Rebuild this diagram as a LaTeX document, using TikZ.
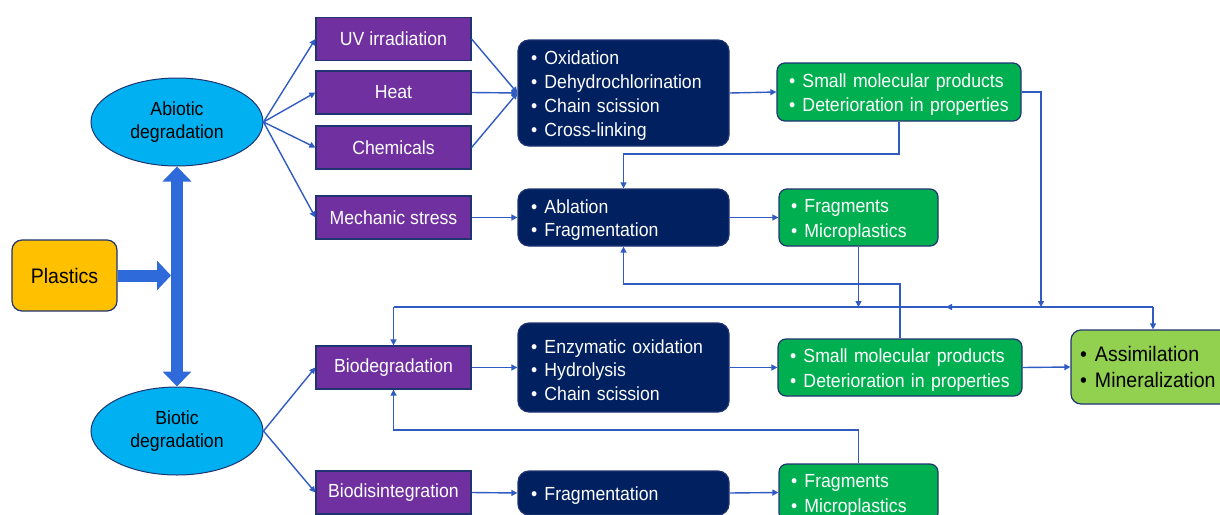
\documentclass[tikz,border=0pt]{standalone}
\usepackage{fontspec}
\setmainfont{Liberation Sans}[FakeStretch=0.93]
\usetikzlibrary{arrows.meta,shapes.geometric,calc}
\definecolor{navy}{HTML}{002060}
\definecolor{grn}{HTML}{00B050}
\definecolor{lgrn}{HTML}{92D050}
\definecolor{purp}{HTML}{7030A0}
\definecolor{cyanx}{HTML}{00B0F0}
\definecolor{yel}{HTML}{FFC000}
\definecolor{lineblue}{HTML}{2F5BC2}
\definecolor{thickblue}{HTML}{2F6ADB}
\definecolor{boxedge}{HTML}{1F3470}
\newcommand\bul{\makebox[13.5pt][l]{\textbullet}}
\newcommand\bigbul{\makebox[15pt][l]{\textbullet}}
\newcommand\nohy{\hyphenpenalty=10000\relax}
\begin{document}
\begin{tikzpicture}[x=1pt,y=-1pt,
  conn/.style={draw=lineblue, line width=1.4pt, -{Triangle[length=6pt,width=6pt]}},
  plainline/.style={draw=lineblue, line width=1.4pt},
  thickarrow/.style={draw=thickblue, line width=12pt},
  purplebox/.style={rectangle, fill=purp, draw=boxedge, line width=1.2pt, minimum width=155pt, minimum height=43pt, text=white, font=\fontsize{19}{22}\selectfont, inner sep=0pt},
  navybox/.style={rectangle, rounded corners=11pt, fill=navy, draw=boxedge, line width=1.2pt, minimum width=211pt, text width=185pt, align=left, inner xsep=13pt, inner ysep=0pt, text=white, font=\fontsize{19}{23.7}\selectfont\nohy, execute at begin node={\rule{0pt}{19pt}}},
  greenbox/.style={rectangle, rounded corners=8pt, fill=grn, draw=boxedge, line width=1.2pt, align=left, inner xsep=12pt, inner ysep=0pt, text=white, font=\fontsize{19}{24.5}\selectfont\nohy, execute at begin node={\rule{0pt}{19pt}}},
  ell/.style={ellipse, fill=cyanx, draw=boxedge, line width=1pt, minimum width=172pt, minimum height=88pt, align=center, inner sep=0pt, font=\fontsize{19}{23}\selectfont}
]
\useasboundingbox (0,0) rectangle (1220,514);
\clip (0,0) rectangle (1220,514);

% left
\node[rectangle, rounded corners=10pt, fill=yel, draw=boxedge, line width=1.2pt, minimum width=105pt, minimum height=71pt, font=\fontsize{21}{24}\selectfont, inner sep=0pt] (plast) at (64.5,275.5) {Plastics};
\node[ell] (abio) at (177,122) {Abiotic\\degradation};
\node[ell] (bio) at (177,431) {Biotic\\degradation};

% purple
\node[purplebox] (uv) at (393.5,39) {UV irradiation};
\node[purplebox] (heat) at (393.5,92.5) {Heat};
\node[purplebox] (chem) at (393.5,147.5) {Chemicals};
\node[purplebox] (mech) at (393.5,217.5) {Mechanic stress};
\node[purplebox] (biodeg) at (393.5,367.5) {Biodegradation};
\node[purplebox] (biodis) at (393.5,492.5) {Biodisintegration};

% navy
\node[navybox, minimum height=106pt] (n1) at (623.5,93) {\bul Oxidation\\\bul Dehydrochlorination\\\bul Chain scission\\\bul Cross-linking};
\node[navybox, minimum height=57pt] (n2) at (623.5,217.5) {\bul Ablation\\\bul Fragmentation};
\node[navybox, minimum height=89pt] (n3) at (623.5,367.5) {\bul Enzymatic oxidation\\\bul Hydrolysis\\\bul Chain scission};
\node[navybox, minimum height=44pt] (n4) at (623.5,493) {\bul Fragmentation};

% green
\node[greenbox, minimum width=244pt, text width=220pt, minimum height=58pt] (g1) at (899,92) {\bul Small molecular products\\\bul Deterioration in properties};
\node[greenbox, minimum width=159pt, text width=135pt, minimum height=57pt] (g2) at (858.5,217.5) {\bul Fragments\\\bul Microplastics};
\node[greenbox, minimum width=244pt, text width=220pt, minimum height=57pt] (g3) at (900,367.5) {\bul Small molecular products\\\bul Deterioration in properties};
\node[greenbox, minimum width=159pt, text width=135pt, minimum height=57pt] (g4) at (858.5,492.5) {\bul Fragments\\\bul Microplastics};
\node[rectangle, rounded corners=10pt, fill=lgrn, draw=boxedge, line width=1.2pt, minimum width=164pt, text width=146pt, inner xsep=9pt, minimum height=74pt, align=left, font=\fontsize{21}{26}\selectfont] (assim) at (1153,367) {\bigbul Assimilation\\\bigbul Mineralization};

% thick arrows
\coordinate (bar) at (abio.south |- plast.east);
\draw[thickarrow, -{Triangle[length=14pt,width=29pt]}] (plast.east) -- ([xshift=-6pt]bar);
\draw[thickarrow, {Triangle[length=15pt,width=28pt]}-{Triangle[length=15pt,width=28pt]}] (abio.south) -- (bio.north);

% abiotic / biotic branches
\foreach \t in {uv,heat,chem,mech} \draw[conn] (abio.east) -- (\t.west);
\foreach \t in {biodeg,biodis} \draw[conn] (bio.east) -- (\t.west);

% into navy
\foreach \s in {uv,heat,chem} \draw[conn] (\s.east) -- (n1.west);
\draw[conn] (mech.east) -- (n2.west);
\draw[conn] (biodeg.east) -- (n3.west);
\draw[conn] (biodis.east) -- (n4.west);

% navy to green
\draw[conn] (n1.east) -- (g1.west);
\draw[conn] (n2.east) -- (g2.west);
\draw[conn] (n3.east) -- (g3.west);
\draw[conn] (n4.east) -- (g4.west);
\draw[conn] (g3.east) -- (assim.west);

% feedback loops
\coordinate (c1) at (623.5,154);
\draw[conn] (g1.south) |- (c1) -- (n2.north);
\coordinate (c2) at (623.5,284);
\draw[conn] (g3.north) |- (c2) -- (n2.south);
\coordinate (c3) at (393.5,430);
\draw[conn] (g4.north) |- (c3) -- (biodeg.south);

% collector line
\coordinate (j1) at (1041,307);
\coordinate (j2) at (858.5,307);
\coordinate (hr) at (1153,307);
\coordinate (hm) at (946,307);
\coordinate (hl) at (393.5,307);
\draw[conn] (g1.east) -| (j1);
\draw[conn] (g2.south) -- (j2);
\draw[plainline] (hr) -- (hl);
\draw[conn] (hr) -- (hm);
\draw[conn] (hr) -- (assim.north);
\draw[conn] (hl) -- (biodeg.north);
\end{tikzpicture}
\end{document}
